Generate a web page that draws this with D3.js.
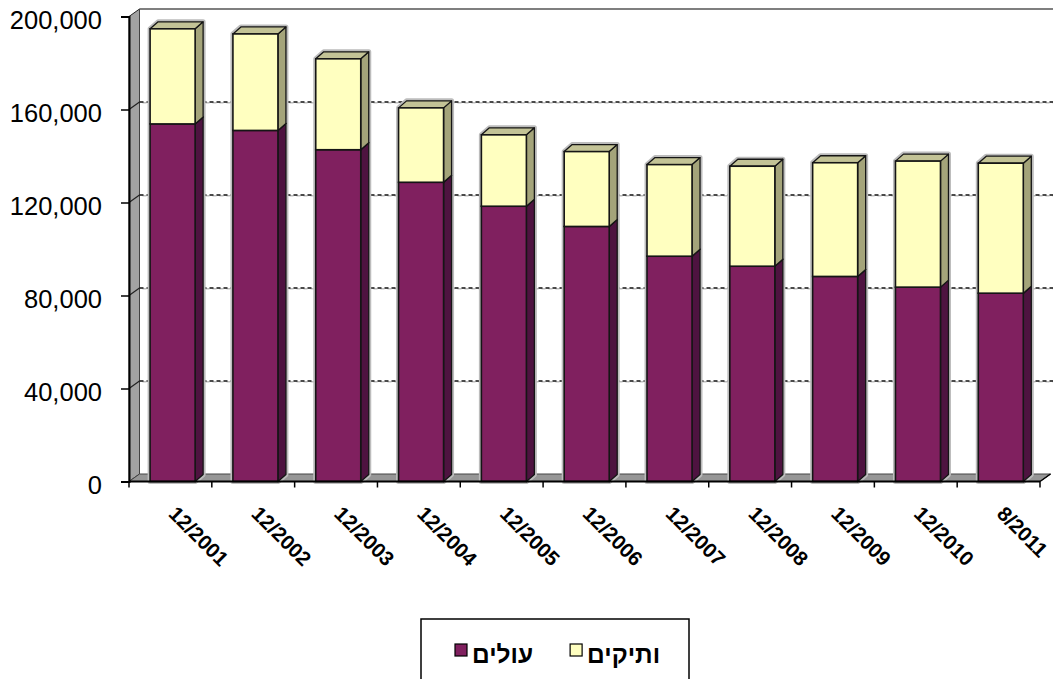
<!DOCTYPE html>
<html>
<head>
<meta charset="utf-8">
<script src="https://cdn.jsdelivr.net/npm/d3@7/dist/d3.min.js"></script>
<style>
  html, body { margin: 0; padding: 0; background: #ffffff; }
  svg { display: block; font-family: "Liberation Sans", Arial, sans-serif; }
</style>
</head>
<body>
<svg id="chart" width="1053" height="679"></svg>
<script>
// Period labels (end of year, last one August 2011)
const categories = ["12/2001", "12/2002", "12/2003", "12/2004", "12/2005", "12/2006",
                    "12/2007", "12/2008", "12/2009", "12/2010", "8/2011"];
// Stacked series: immigrants (bottom) and veterans (top)
const olim    = [153800, 151000, 142700, 128700, 118400, 109700, 96900, 92600, 88200, 83600, 81000];
const vatikim = [40900, 41500, 39100, 32000, 30700, 32200, 39400, 43000, 48900, 54200, 55900];
const seriesNames = ["עולים", "ותיקים"];
const yTicks = [0, 40000, 80000, 120000, 160000, 200000];

(function draw() {
const svg = d3.select("#chart");

// Front plane of the 3-D box
const pLeft = 129, pRight = 1040, pBottom = 481.5, pTop = 16.5;
const wall = { dx: 10.5, dy: -7.5 };   // depth of walls / floor
const deep = { dx: 8, dy: -7 };        // depth of each column

const x = d3.scaleBand().domain(categories).range([pLeft, pRight])
  .paddingInner(0.4565).paddingOuter(0.4565 / 2);
const y = d3.scaleLinear().domain([0, 200000]).range([pBottom, pTop]);
const barShift = 2.2;

const colors = {
  olim:    { front: "#80205f", side: "#4e1340", top: "#6a1a50" },
  vatikim: { front: "#ffffc0", side: "#a4a47a", top: "#c3c396" }
};

const pts = p => p.map(d => d.join(",")).join(" ");

// ---- back wall, side wall, floor ----
const g = svg.append("g");
g.append("rect")
  .attr("x", pLeft + wall.dx).attr("y", pTop + wall.dy)
  .attr("width", 1053 - pLeft - wall.dx).attr("height", pBottom - pTop)
  .attr("fill", "#ffffff");

g.append("polygon")
  .attr("points", pts([[pLeft, pTop], [pLeft + wall.dx, pTop + wall.dy],
                       [pLeft + wall.dx, pBottom + wall.dy], [pLeft, pBottom]]))
  .attr("fill", "#a3a3a3").attr("stroke", "#222").attr("stroke-width", 1);

g.append("polygon")
  .attr("points", pts([[pLeft, pBottom], [pRight, pBottom],
                       [pRight + wall.dx, pBottom + wall.dy], [pLeft + wall.dx, pBottom + wall.dy]]))
  .attr("fill", "#969696").attr("stroke", "#444").attr("stroke-width", 1);

// top edge of the back wall
g.append("line")
  .attr("x1", pLeft + wall.dx).attr("x2", 1053)
  .attr("y1", pTop + wall.dy).attr("y2", pTop + wall.dy)
  .attr("stroke", "#555").attr("stroke-width", 1.5);
g.append("line")
  .attr("x1", pLeft + wall.dx).attr("x2", pLeft + wall.dx)
  .attr("y1", pTop + wall.dy).attr("y2", pBottom + wall.dy)
  .attr("stroke", "#444").attr("stroke-width", 1);

// ---- gridlines ----
const grid = g.append("g");
yTicks.filter(t => t > 0 && t < 200000).forEach(t => {
  const yy = y(t);
  grid.append("line")
    .attr("x1", pLeft).attr("y1", yy).attr("x2", pLeft + wall.dx).attr("y2", yy + wall.dy)
    .attr("stroke", "#222").attr("stroke-width", 1.2);
  grid.append("line")
    .attr("x1", pLeft + wall.dx).attr("x2", 1053)
    .attr("y1", yy + wall.dy + 0.8).attr("y2", yy + wall.dy + 0.8)
    .attr("stroke", "#bdbdbd").attr("stroke-width", 1.6)
    .attr("stroke-dasharray", "4,3").attr("stroke-dashoffset", 4);
  grid.append("line")
    .attr("x1", pLeft + wall.dx).attr("x2", 1053)
    .attr("y1", yy + wall.dy).attr("y2", yy + wall.dy)
    .attr("stroke", "#111").attr("stroke-width", 1.4)
    .attr("stroke-dasharray", "4,3");
});

// ---- stacked 3-D columns ----
const stackData = categories.map((c, i) => ({ cat: c, olim: olim[i], vatikim: vatikim[i] }));
const stack = d3.stack().keys(["olim", "vatikim"])(stackData);

const bars = svg.append("g");
categories.forEach((c, i) => {
  const x0 = x(c) + barShift, x1 = x0 + x.bandwidth();
  const yTopV = y(stack[1][i][1]);
  // soft grey halo around the column
  bars.append("polygon")
    .attr("points", pts([[x0, y(0)], [x0, yTopV], [x0 + deep.dx, yTopV + deep.dy],
                         [x1 + deep.dx, yTopV + deep.dy], [x1 + deep.dx, y(0) + deep.dy], [x1, y(0)]]))
    .attr("fill", "#bcbcbc").attr("stroke", "#bcbcbc").attr("stroke-width", 5)
    .attr("stroke-linejoin", "round");
});

stack.forEach(layer => {
  const key = layer.key;
  layer.forEach((d, i) => {
    const c = categories[i];
    const x0 = x(c) + barShift, x1 = x0 + x.bandwidth();
    const yb = y(d[0]), yt = y(d[1]);
    const col = colors[key];
    // side face
    bars.append("polygon")
      .attr("points", pts([[x1, yb], [x1, yt], [x1 + deep.dx, yt + deep.dy], [x1 + deep.dx, yb + deep.dy]]))
      .attr("fill", col.side).attr("stroke", "#151515").attr("stroke-width", 1.3)
      .attr("stroke-linejoin", "round");
    // top face
    bars.append("polygon")
      .attr("points", pts([[x0, yt], [x1, yt], [x1 + deep.dx, yt + deep.dy], [x0 + deep.dx, yt + deep.dy]]))
      .attr("fill", col.top).attr("stroke", "#151515").attr("stroke-width", 1.3)
      .attr("stroke-linejoin", "round");
    // front face
    bars.append("rect")
      .attr("x", x0).attr("y", yt).attr("width", x1 - x0).attr("height", yb - yt)
      .attr("fill", col.front).attr("stroke", "#151515").attr("stroke-width", 1.6);
  });
});

// ---- axes ----
const axes = svg.append("g");
const yAxis = d3.axisLeft(y).tickValues(yTicks).tickFormat(d3.format(",")).tickSize(8).tickPadding(6);
const ya = axes.append("g").attr("transform", `translate(${pLeft},0)`).call(yAxis);
ya.select(".domain").attr("stroke", "#000").attr("stroke-width", 2);
ya.selectAll(".tick line").attr("stroke", "#000").attr("stroke-width", 1.5);
ya.selectAll(".tick text")
  .attr("font-size", 25.5).attr("fill", "#000")
  .attr("font-family", "'Liberation Sans', Arial, sans-serif")
  .attr("x", -27).attr("dy", 12).attr("text-anchor", "end");

// floor front edge and category tick marks
axes.append("line").attr("x1", pLeft).attr("x2", pRight).attr("y1", pBottom).attr("y2", pBottom)
  .attr("stroke", "#000").attr("stroke-width", 2);
axes.append("line").attr("x1", pRight).attr("x2", pRight + wall.dx).attr("y1", pBottom).attr("y2", pBottom + wall.dy)
  .attr("stroke", "#000").attr("stroke-width", 1.5);
const boundaries = d3.range(categories.length + 1).map(i => pLeft + i * x.step());
axes.selectAll(".xtick").data(boundaries).join("line")
  .attr("x1", d => d).attr("x2", d => d).attr("y1", pBottom).attr("y2", pBottom + 6)
  .attr("stroke", "#000").attr("stroke-width", 1.5);

const catCenter = d => pLeft + (categories.indexOf(d) + 0.5) * x.step();
axes.selectAll(".xlabel").data(categories).join("text")
  .attr("transform", d => `translate(${catCenter(d) + 7.5},${pBottom + 23}) rotate(45)`)
  .attr("dy", "0.72em")
  .attr("font-size", 20.5).attr("font-weight", "bold").attr("fill", "#000")
  .text(d => d);

// ---- legend ----
const legend = svg.append("g").attr("transform", "translate(421,619)");
legend.append("rect").attr("x", 0).attr("y", 0).attr("width", 268).attr("height", 80)
  .attr("fill", "#fff").attr("stroke", "#000").attr("stroke-width", 1.5);
let lx = 34;
[{ name: seriesNames[0], c: colors.olim.front }, { name: seriesNames[1], c: colors.vatikim.front }]
  .forEach(item => {
    legend.append("rect").attr("x", lx).attr("y", 25).attr("width", 12).attr("height", 12)
      .attr("fill", item.c).attr("stroke", "#000").attr("stroke-width", 1.2);
    const t = legend.append("text").attr("x", lx + 17).attr("y", 43.5)
      .attr("font-size", 24.5).attr("font-weight", "bold").attr("fill", "#000")
      .text(item.name);
    lx += 17 + t.node().getComputedTextLength() + 37;
  });
})();
</script>
</body>
</html>
